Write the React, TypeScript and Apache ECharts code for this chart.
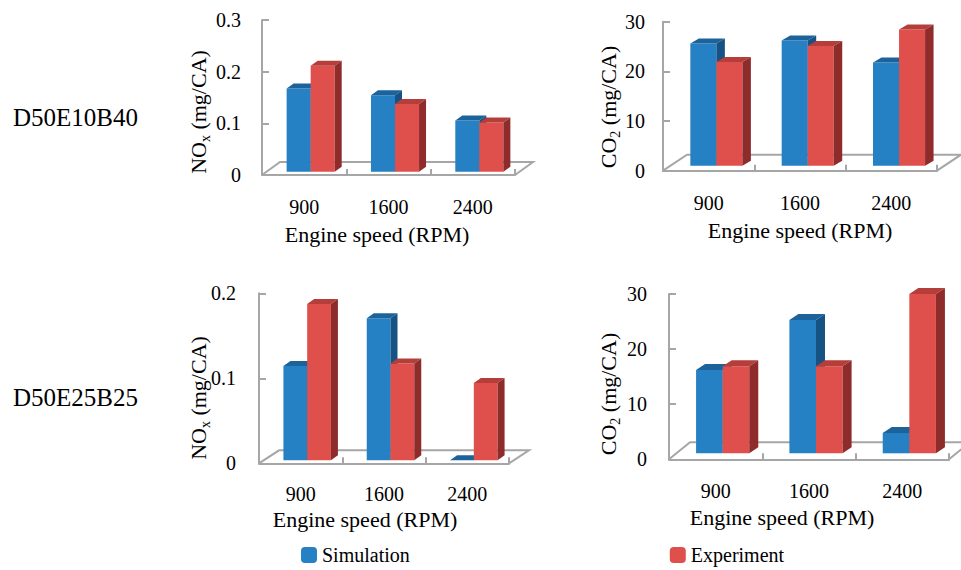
import React, { useEffect, useRef } from 'react';
import * as echarts from 'echarts';

// ---------- data ----------
const categories = ['900', '1600', '2400'];
const seriesNames = ['Simulation', 'Experiment'];
const blendLabels = ['D50E10B40', 'D50E25B25'];

const noxD50E10B40Simulation = [0.161, 0.148, 0.099];
const noxD50E10B40Experiment = [0.205, 0.131, 0.095];
const co2D50E10B40Simulation = [24.6, 25.2, 20.8];
const co2D50E10B40Experiment = [20.9, 24.1, 27.4];
const noxD50E25B25Simulation = [0.111, 0.167, 0];
const noxD50E25B25Experiment = [0.184, 0.114, 0.091];
const co2D50E25B25Simulation = [15.1, 24.2, 3.7];
const co2D50E25B25Experiment = [15.8, 15.8, 28.9];

const noxMax = [0.3, 0.2];
const co2Max = [30, 30];
const noxInterval = 0.1;
const co2Interval = 10;

const xTitle = 'Engine speed (RPM)';
const noxTitle = '{m|NO}{s|x}{m| (mg/CA)}';
const co2Title = '{m|CO}{s|2}{m| (mg/CA)}';

// ---------- style ----------
const FONT = 'Liberation Serif';
const AXIS_GRAY = '#A6A6A6';
const BAR_FRACTION = 0.285;
const COLORS = [
  { front: '#2681C4', top: '#1D639B', side: '#175284' },
  { front: '#DF504D', top: '#B53E3B', side: '#8E2C2C' },
];

const panels = [
  {
    grid: { left: 262, top: 20, width: 253, height: 155 },
    sim: noxD50E10B40Simulation, exp: noxD50E10B40Experiment,
    max: noxMax[0], interval: noxInterval, yTitle: noxTitle,
    floor: [18, -13], shift: [6.5, -3.3], depth: [7, -5],
    xTitlePos: [377, 234], yTitlePos: [198, 112], labelMargin: 22, yLabelMargin: 21,
  },
  {
    grid: { left: 663, top: 21.7, width: 274, height: 149 },
    sim: co2D50E10B40Simulation, exp: co2D50E10B40Experiment,
    max: co2Max[0], interval: co2Interval, yTitle: co2Title,
    floor: [24, -16], shift: [7.7, -5], depth: [8.5, -5],
    xTitlePos: [800, 230], yTitlePos: [608, 107], labelMargin: 22, yLabelMargin: 18,
  },
  {
    grid: { left: 259, top: 293.3, width: 250, height: 170 },
    sim: noxD50E25B25Simulation, exp: noxD50E25B25Experiment,
    max: noxMax[1], interval: noxInterval, yTitle: noxTitle,
    floor: [20, -13], shift: [6.5, -3], depth: [7, -5],
    xTitlePos: [365, 519], yTitlePos: [198, 398], labelMargin: 21, yLabelMargin: 23,
  },
  {
    grid: { left: 669, top: 294, width: 280, height: 165.3 },
    sim: co2D50E25B25Simulation, exp: co2D50E25B25Experiment,
    max: co2Max[1], interval: co2Interval, yTitle: co2Title,
    floor: [21, -17], shift: [7, -6], depth: [9, -6],
    xTitlePos: [782, 517], yTitlePos: [608, 394], labelMargin: 22, yLabelMargin: 22,
  },
];

function barRenderer(p: any, side: number) {
  const c = COLORS[side];
  return (params: any, api: any) => {
    const j = api.value(0);
    const v = api.value(1);
    const base = api.coord([j, 0]);
    const top = api.coord([j, v]);
    const band = api.size([1, 0])[0];
    const bw = band * BAR_FRACTION;
    const x0 = base[0] + p.shift[0] + (side === 0 ? -bw : 0);
    const yb = base[1] + p.shift[1];
    const yt = top[1] + p.shift[1];
    const dx = p.depth[0];
    const dy = p.depth[1];
    return {
      type: 'group',
      children: [
        { type: 'rect', shape: { x: x0, y: yt, width: bw, height: Math.max(0, yb - yt) }, style: { fill: c.front } },
        {
          type: 'polygon',
          shape: { points: [[x0, yt], [x0 + bw, yt], [x0 + bw + dx, yt + dy], [x0 + dx, yt + dy]] },
          style: { fill: c.top },
        },
        {
          type: 'polygon',
          shape: { points: [[x0 + bw, yt], [x0 + bw + dx, yt + dy], [x0 + bw + dx, yb + dy], [x0 + bw, yb]] },
          style: { fill: c.side },
        },
      ],
    };
  };
}

function floorRenderer(p: any) {
  return (params: any) => {
    const cs = params.coordSys;
    const L = cs.x;
    const R = cs.x + cs.width;
    const B = cs.y + cs.height;
    const [fx, fy] = p.floor;
    return {
      type: 'polyline',
      shape: { points: [[L, B], [L + fx, B + fy], [R + fx, B + fy], [R, B]] },
      style: { stroke: AXIS_GRAY, lineWidth: 2, fill: null },
    };
  };
}

function buildOption() {
  const series: any[] = [];
  panels.forEach((p, i) => {
    series.push({
      type: 'custom',
      xAxisIndex: i,
      yAxisIndex: i,
      clip: false,
      silent: true,
      z: 1,
      data: [[0, 0]],
      encode: { x: 0, y: 1 },
      renderItem: floorRenderer(p),
    });
    [p.sim, p.exp].forEach((vals, side) => {
      series.push({
        type: 'custom',
        name: seriesNames[side],
        xAxisIndex: i,
        yAxisIndex: i,
        clip: false,
        z: 2 + side,
        itemStyle: { color: COLORS[side].front },
        data: vals.map((v: number, j: number) => [j, v]),
        encode: { x: 0, y: 1 },
        renderItem: barRenderer(p, side),
      });
    });
  });

  const richTitle = {
    m: { fontFamily: FONT, fontSize: 22, color: '#000', verticalAlign: 'middle', lineHeight: 22 },
    s: { fontFamily: FONT, fontSize: 14, color: '#000', verticalAlign: 'bottom', lineHeight: 28 },
  };

  const graphic: any[] = [];
  blendLabels.forEach((t, k) => {
    graphic.push({
      type: 'text', x: 13, y: k === 0 ? 117 : 397,
      style: { text: t, fontFamily: FONT, fontSize: 25, fill: '#000', align: 'left', verticalAlign: 'middle' },
    });
  });
  panels.forEach((p) => {
    graphic.push({
      type: 'text', x: p.xTitlePos[0], y: p.xTitlePos[1],
      style: { text: xTitle, fontFamily: FONT, fontSize: 22, fill: '#000', align: 'center', verticalAlign: 'middle' },
    });
    graphic.push({
      type: 'text', x: p.yTitlePos[0], y: p.yTitlePos[1], rotation: Math.PI / 2,
      style: { text: p.yTitle, rich: richTitle, fontFamily: FONT, fill: '#000', align: 'center', verticalAlign: 'middle' },
    });
  });

  return {
    animation: false,
    backgroundColor: '#fff',
    textStyle: { fontFamily: FONT },
    grid: panels.map((p) => ({ ...p.grid })),
    xAxis: panels.map((p, i) => ({
      type: 'category',
      gridIndex: i,
      data: categories,
      boundaryGap: true,
      axisLine: { show: true, lineStyle: { color: AXIS_GRAY, width: 2 } },
      axisTick: { show: true, inside: true, length: 6, alignWithLabel: false, lineStyle: { color: AXIS_GRAY, width: 2 } },
      axisLabel: { margin: p.labelMargin, color: '#000', fontFamily: FONT, fontSize: 20 },
      splitLine: { show: false },
    })),
    yAxis: panels.map((p, i) => ({
      type: 'value',
      gridIndex: i,
      min: 0,
      max: p.max,
      interval: p.interval,
      axisLine: { show: true, lineStyle: { color: AXIS_GRAY, width: 2 } },
      axisTick: { show: true, inside: true, length: 7, lineStyle: { color: AXIS_GRAY, width: 2 } },
      axisLabel: { margin: p.yLabelMargin, color: '#000', fontFamily: FONT, fontSize: 20 },
      splitLine: { show: false },
    })),
    legend: {
      data: seriesNames,
      left: 301,
      top: 545,
      padding: 0,
      itemWidth: 16,
      itemHeight: 16,
      itemGap: 260,
      icon: 'roundRect',
      textStyle: { fontFamily: FONT, fontSize: 20, color: '#000' },
      selectedMode: false,
    },
    graphic,
    series,
  };
}

export default function App() {
  const ref = useRef<HTMLDivElement>(null);
  useEffect(() => {
    const chart = echarts.init(ref.current as HTMLDivElement, null, { renderer: 'svg' });
    chart.setOption(buildOption() as any);
    return () => chart.dispose();
  }, []);
  return (
    <div
      ref={ref}
      style={{ position: 'fixed', left: 0, top: 0, width: 961, height: 570, background: '#fff' }}
    />
  );
}
